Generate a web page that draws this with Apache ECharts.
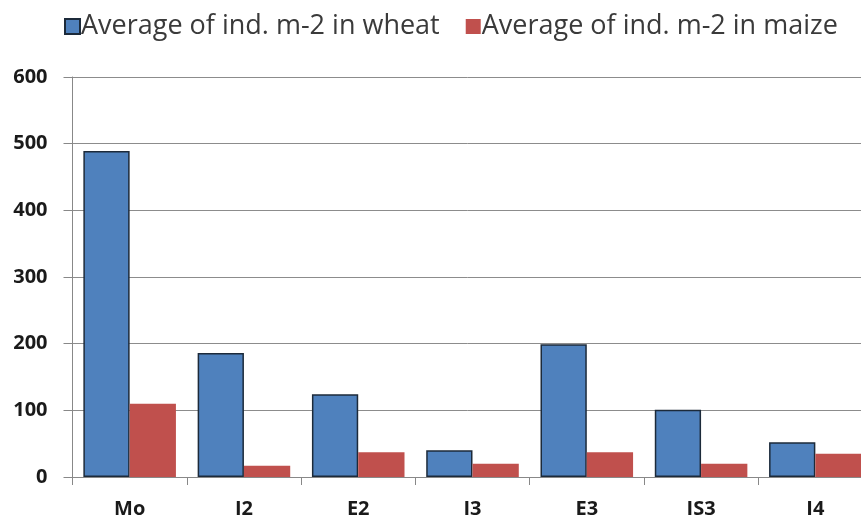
<!DOCTYPE html>
<html>
<head>
<meta charset="utf-8">
<script src="https://cdn.jsdelivr.net/npm/echarts@6/dist/echarts.min.js"></script>
<style>html,body{margin:0;padding:0;background:#fff;}#c{width:861px;height:519px;}</style>
</head>
<body>
<div id="c"></div>
<script>
const categories = ['Mo', 'I2', 'E2', 'I3', 'E3', 'IS3', 'I4'];
const wheat = [489, 186, 124, 40, 199, 101, 52];
const maize = [110, 17, 37, 20, 37, 20, 35];
const yTicks = [0, 100, 200, 300, 400, 500, 600];
const seriesNames = ['Average of ind. m-2 in wheat', 'Average of ind. m-2 in maize'];

const chart = echarts.init(document.getElementById('c'));
chart.setOption({
  animation: false,
  backgroundColor: '#fff',
  legend: {
    top: 8, left: 59,
    itemWidth: 15, itemHeight: 15, itemGap: 26,
    icon: 'rect',
    textStyle: { fontFamily: 'Open Sans', fontSize: 27, color: '#3a3a3a', padding: [0,0,0,-4] },
    data: seriesNames
  },
  grid: { left: 72.5, top: 77, width: 800, height: 400, containLabel: false, outerBoundsMode: 'none' },
  xAxis: {
    type: 'category', data: categories,
    axisLine: { lineStyle: { color: '#888', width: 1 } },
    axisTick: { show: true, length: 8, lineStyle: { color: '#888' } },
    axisLabel: { fontFamily: 'Open Sans', fontWeight: 'bold', fontSize: 20, color: '#1a1a1a', margin: 22 }
  },
  yAxis: {
    type: 'value', min: 0, max: 600, interval: 100,
    axisLine: { show: true, lineStyle: { color: '#888' } },
    axisTick: { show: true, length: 9, lineStyle: { color: '#888' } },
    splitLine: { lineStyle: { color: '#8c8c8c', width: 1 } },
    axisLabel: { fontFamily: 'Open Sans', fontWeight: 'bold', fontSize: 20, color: '#1a1a1a', margin: 25,
      formatter: v => yTicks.includes(v) ? String(v) : '' }
  },
  series: [
    { name: seriesNames[0], type: 'bar', data: wheat, barGap: '0%', barCategoryGap: '19%',
      itemStyle: { color: '#4F81BD', borderColor: '#1c2a3a', borderWidth: 1.5 } },
    { name: seriesNames[1], type: 'bar', data: maize,
      itemStyle: { color: '#C0504D' } }
  ]
});
</script>
</body>
</html>
